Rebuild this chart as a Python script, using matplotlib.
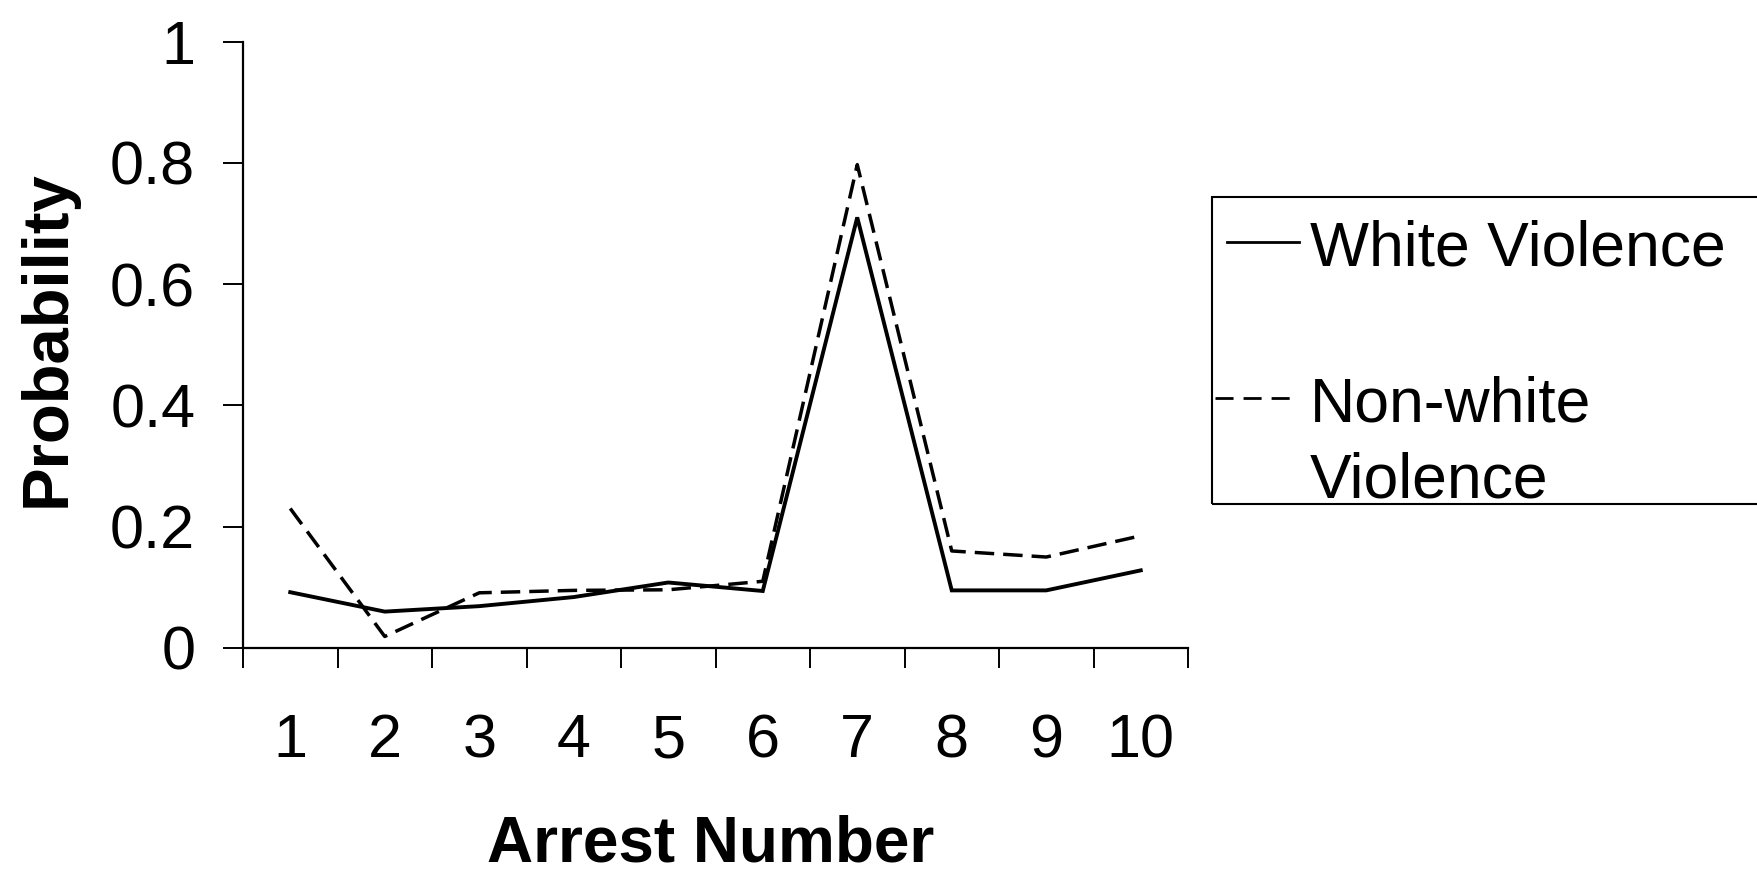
import matplotlib
matplotlib.use("Agg")
import matplotlib.pyplot as plt
from matplotlib.lines import Line2D
from matplotlib.patches import Rectangle
import numpy as np

arrest_numbers = [1, 2, 3, 4, 5, 6, 7, 8, 9, 10]
white_violence = [0.092, 0.060, 0.069, 0.084, 0.108, 0.094, 0.710, 0.095, 0.095, 0.128]
nonwhite_violence = [0.230, 0.019, 0.091, 0.095, 0.096, 0.110, 0.797, 0.160, 0.150, 0.185]
y_ticks = [0, 0.2, 0.4, 0.6, 0.8, 1]
y_tick_labels = ["0", "0.2", "0.4", "0.6", "0.8", "1"]
series_labels = ["White Violence", "Non-white\nViolence"]

plt.rcParams['font.family'] = ['Liberation Sans', 'DejaVu Sans']

W, H = 1757, 876
fig = plt.figure(figsize=(W / 100, H / 100), dpi=100)
ax_left, ax_right, ax_top, ax_bottom = 243, 1188, 41.5, 648
ax = fig.add_axes([ax_left / W, 1 - ax_bottom / H, (ax_right - ax_left) / W, (ax_bottom - ax_top) / H])

ax.plot(arrest_numbers, white_violence, color='black', lw=2.8, solid_joinstyle='miter')
ax.plot(arrest_numbers, nonwhite_violence, color='black', lw=2.5, dashes=(5.6, 2.6))

ax.set_xlim(0.5, 10.5)
ax.set_ylim(0, 1)
for s in ['top', 'right']:
    ax.spines[s].set_visible(False)
for s in ['left', 'bottom']:
    ax.spines[s].set_linewidth(1.6)

ax.set_yticks(y_ticks)
ax.set_yticklabels(y_tick_labels, fontsize=44)
ax.tick_params(axis='y', direction='out', length=14.4, width=1.4, pad=20)

ax.set_xticks(arrest_numbers)
ax.set_xticklabels([str(a) for a in arrest_numbers], fontsize=44)
ax.set_xticks(np.arange(0.5, 11, 1.0), minor=True)
ax.tick_params(axis='x', which='major', length=0, pad=47)
ax.tick_params(axis='x', which='minor', direction='out', length=14.4, width=1.4)

ax.set_xlabel("Arrest Number", fontsize=46, fontweight='bold', va='baseline')
ax.xaxis.set_label_coords((711 - ax_left) / (ax_right - ax_left),
                          (ax_bottom - 861) / (ax_bottom - ax_top))
ax.set_ylabel("Probability", fontsize=47, fontweight='bold', va='center')
ax.yaxis.set_label_coords((47.5 - ax_left) / (ax_right - ax_left),
                          (ax_bottom - 338.5) / (ax_bottom - ax_top))

# Legend (drawn manually to match the original layout)
def fx(px):
    return px / W

def fy(py):
    return 1 - py / H

frame = Rectangle((fx(1212), fy(504)), fx(1757 + 50) - fx(1212), fy(197) - fy(504),
                  transform=fig.transFigure, fill=False, edgecolor='black', lw=1.5,
                  clip_on=False)
fig.add_artist(frame)

fig.add_artist(Line2D([fx(1227), fx(1299)], [fy(242), fy(242)], transform=fig.transFigure,
                      color='black', lw=2.0))
fig.add_artist(Line2D([fx(1215), fx(1297)], [fy(398), fy(398)], transform=fig.transFigure,
                      color='black', lw=2.0, dashes=(6.5, 3.6)))

fig.text(fx(1310), fy(265), series_labels[0], fontsize=45, va='baseline', ha='left')
nw_lines = series_labels[1].split("\n")
fig.text(fx(1310), fy(422), nw_lines[0], fontsize=45, va='baseline', ha='left')
fig.text(fx(1310), fy(497), nw_lines[1], fontsize=45, va='baseline', ha='left')

fig.savefig("out.png", dpi=100, facecolor='white')
